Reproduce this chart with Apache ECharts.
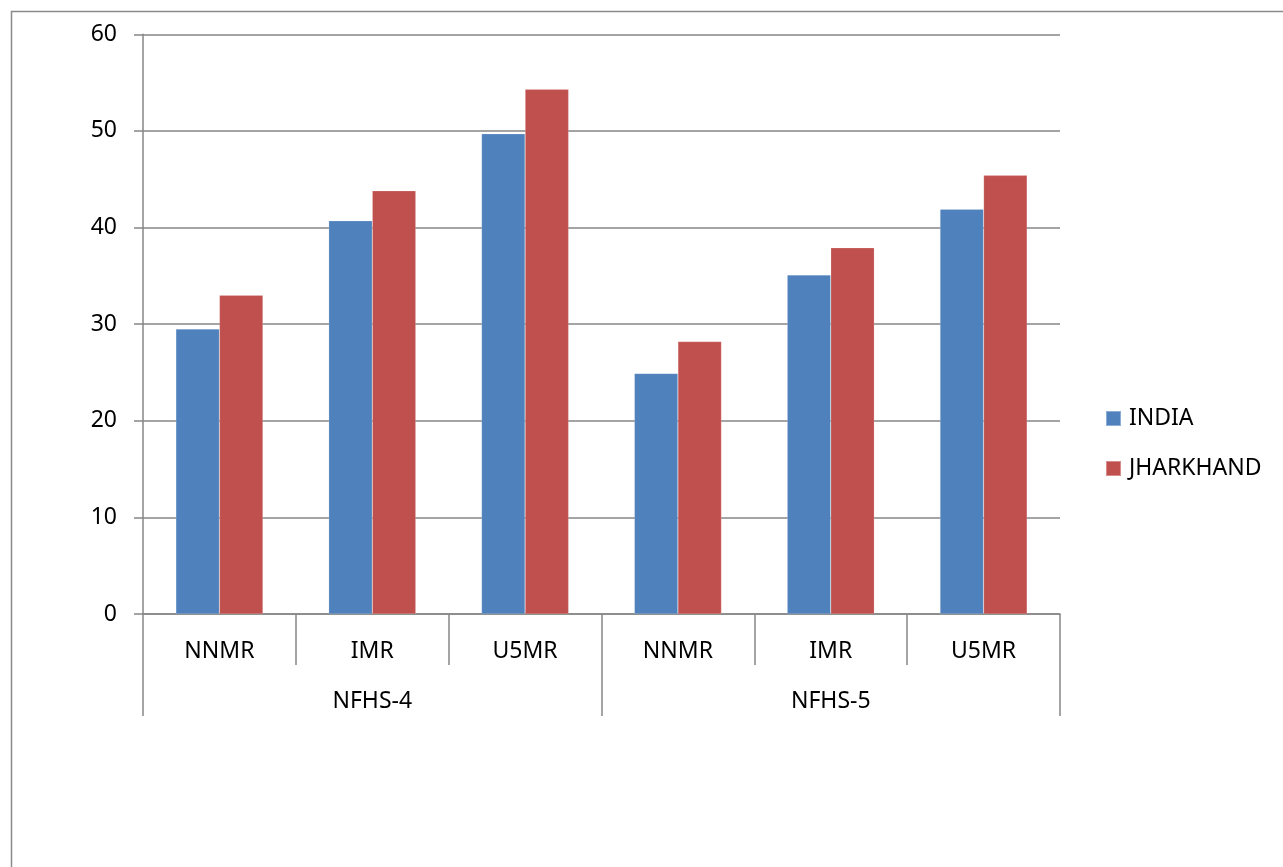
<!DOCTYPE html>
<html>
<head>
<meta charset="utf-8">
<title>Neonatal, infant and under-five mortality: India vs Jharkhand</title>
<script src="https://cdn.jsdelivr.net/npm/echarts@6/dist/echarts.min.js"></script>
<style>
  html, body { margin: 0; padding: 0; background: #ffffff; }
  #chart { width: 1283px; height: 867px; }
</style>
</head>
<body>
<div id="chart"></div>
<script>
// Indicators, repeated for each survey round
const indicators = ['NNMR', 'IMR', 'U5MR', 'NNMR', 'IMR', 'U5MR'];
// Survey rounds (outer label level)
const rounds = ['NFHS-4', 'NFHS-5'];
// Deaths per 1,000 live births
const india = [29.5, 40.7, 49.7, 24.9, 35.1, 41.9];
const jharkhand = [33.0, 43.8, 54.3, 28.2, 37.9, 45.4];
// Value axis ticks
const yMin = 0, yMax = 60, yStep = 10;

const FONT = 'Noto Sans';
const AXIS_GRAY = '#868686';
const TEXT = '#000000';
const FS = 23;

const chart = echarts.init(document.getElementById('chart'), null, { renderer: 'canvas' });

chart.setOption({
  animation: false,
  backgroundColor: '#ffffff',
  textStyle: { fontFamily: FONT },
  graphic: [{
    type: 'rect',
    left: 9, top: 9,
    shape: { x: 0, y: 0, width: 1400, height: 1000 },
    style: { fill: 'none', stroke: '#8a8a8a', lineWidth: 1.5 },
    silent: true,
    z: -1
  }],
  grid: { left: 143, top: 34.3, right: 223, bottom: 253, containLabel: false },
  legend: {
    orient: 'vertical',
    left: 1105, top: 407,
    padding: 0,
    icon: 'rect',
    itemWidth: 15, itemHeight: 15,
    itemGap: 27,
    textStyle: { fontFamily: FONT, fontSize: FS, color: TEXT, padding: [0, 0, 0, 3] },
    data: ['INDIA', 'JHARKHAND']
  },
  xAxis: [{
    type: 'category',
    position: 'bottom',
    data: indicators,
    boundaryGap: true,
    axisLine: { show: true, lineStyle: { color: AXIS_GRAY, width: 1.5 } },
    axisTick: { show: true, interval: 0, alignWithLabel: false, length: 51, lineStyle: { color: AXIS_GRAY, width: 1.5 } },
    axisLabel: { interval: 0, margin: 26, fontFamily: FONT, fontSize: FS, color: TEXT },
    splitLine: { show: false }
  }, {
    type: 'category',
    position: 'bottom',
    data: rounds,
    boundaryGap: true,
    axisLine: { show: false },
    axisTick: { show: true, interval: 0, alignWithLabel: false, length: 102, lineStyle: { color: AXIS_GRAY, width: 1.5 } },
    axisLabel: { interval: 0, margin: 76, fontFamily: FONT, fontSize: FS, color: TEXT },
    splitLine: { show: false }
  }],
  yAxis: {
    type: 'value',
    min: yMin, max: yMax, interval: yStep,
    axisLine: { show: true, lineStyle: { color: AXIS_GRAY, width: 1.5 } },
    axisTick: { show: true, length: 9, lineStyle: { color: AXIS_GRAY, width: 1.5 } },
    axisLabel: { margin: 26, fontFamily: FONT, fontSize: FS, color: TEXT },
    splitLine: { show: true, lineStyle: { color: AXIS_GRAY, width: 1.5 } }
  },
  series: [{
    name: 'INDIA',
    type: 'bar',
    xAxisIndex: 0,
    data: india,
    barGap: '0%',
    barCategoryGap: '43%',
    itemStyle: { color: '#4F81BD', borderColor: 'rgba(255,255,255,0.35)', borderWidth: 0.5 }
  }, {
    name: 'JHARKHAND',
    type: 'bar',
    xAxisIndex: 0,
    data: jharkhand,
    barGap: '0%',
    barCategoryGap: '43%',
    itemStyle: { color: '#C0504D', borderColor: 'rgba(255,255,255,0.35)', borderWidth: 0.5 }
  }]
});
</script>
</body>
</html>
